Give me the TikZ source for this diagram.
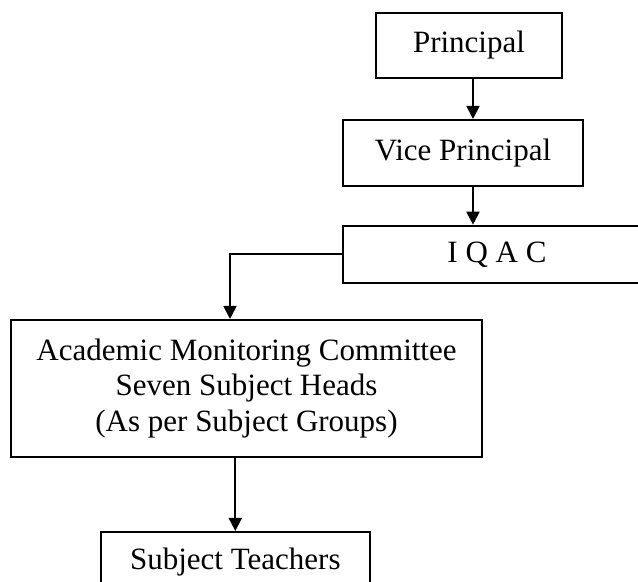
\documentclass[tikz,border=0pt]{standalone}
\usepackage{fontspec}
\setmainfont{Liberation Serif}
\usepackage{tikz}
\usetikzlibrary{arrows.meta,positioning}
\newcommand{\BoxText}{\fontsize{15.5pt}{17.75pt}\selectfont}

\begin{document}
\begin{tikzpicture}[
  x=0.5pt, y=-0.5pt,
  every node/.style={font=\BoxText},        % Times-like body text
  box/.style={
    rectangle, draw=black, line width=1pt,
    align=center, inner sep=0pt
  },
  leader/.style={-{Triangle[length=6.5pt,width=6.5pt]}, line width=0.9pt}
]

% ---------- Frame ----------
\useasboundingbox (0,0) rectangle (638,582);

% ---------- Guide lines for the connectors ----------
\coordinate (spine) at (473,0);
\coordinate (drop)  at (230,0);

% ---------- Boxes ----------
\node[box, minimum width=93pt,  minimum height=32.7pt] (Principal) at (469,45.3) {Principal};
\node[box, minimum width=120pt, minimum height=33pt]   (Vice)      at (463,153)  {Vice Principal};
\node[box, minimum width=154pt, minimum height=28.7pt] (IQAC)      at (497,254.4) {I Q A C};
\node[box, minimum width=235.5pt, minimum height=68.5pt] (Academic) at (246.5,388.5) {
  Academic Monitoring Committee\\
  Seven Subject Heads\\
  (As per Subject Groups)
};
\node[box, minimum width=134.7pt, minimum height=30pt] (Teachers)  at (235.3,562) {Subject Teachers};

% ---------- Leaders ----------
\draw[leader] (Principal.south -| spine) -- (Vice.north -| spine);
\draw[leader] (Vice.south -| spine) -- (IQAC.north -| spine);
\draw[leader] (IQAC.west) -| (Academic.north -| drop);
\draw[leader] (Academic.south -| Teachers.north) -- (Teachers.north);

\end{tikzpicture}
\end{document}
